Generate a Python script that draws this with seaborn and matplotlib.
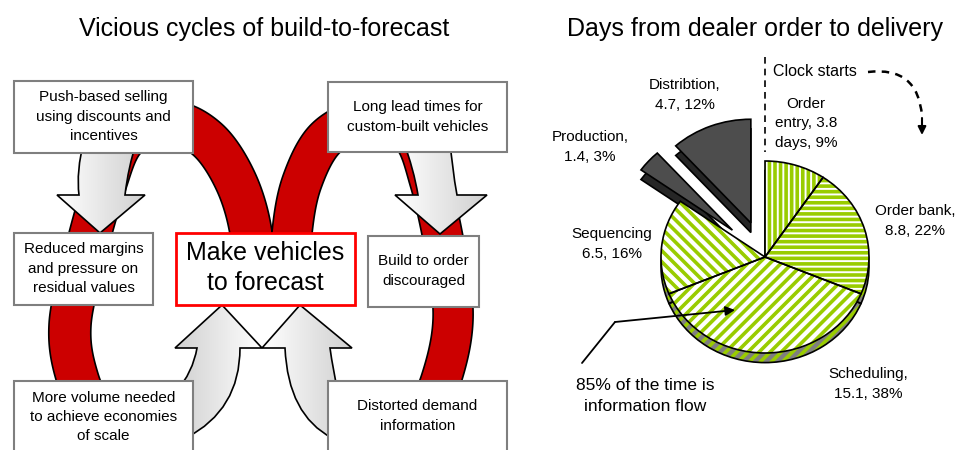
import numpy as np
import matplotlib.pyplot as plt
import seaborn as sns
from matplotlib.path import Path
from matplotlib.patches import PathPatch, Rectangle, Polygon
from matplotlib.colors import LinearSegmentedColormap

sns.set_theme(style="white")
plt.rcParams['font.family'] = ['Liberation Sans', 'DejaVu Sans']
plt.rcParams['text.color'] = 'black'
plt.rcParams['hatch.linewidth'] = 2.6

# --- pie data: days from dealer order to delivery ---
stages = ['Order entry', 'Order bank', 'Scheduling', 'Sequencing', 'Production', 'Distribtion']
days = [3.8, 8.8, 15.1, 6.5, 1.4, 4.7]
shares = [9, 22, 38, 16, 3, 12]
label_fmt = ['Order\nentry, {d}\ndays, {s}%', 'Order bank,\n{d}, {s}%', 'Scheduling,\n{d}, {s}%',
             'Sequencing\n{d}, {s}%', 'Production,\n{d}, {s}%', 'Distribtion,\n{d}, {s}%']
label_xy = [(806, 123), (915, 221), (868, 384), (612, 244), (590, 147), (685, 95)]
info_flow = [True, True, True, True, False, False]
explode = [0, 0, 0, 0, 0.42, 0.38]
hatches = ['|||', '---', '///', '\\\\\\', '', '']

# --- cycle diagram boxes: text, x0, y0, x1, y1 (pixels), text centre y ---
cycle_boxes = [
    ('Push-based selling\nusing discounts and\nincentives', 14, 81, 193, 153, 117),
    ('Long lead times for\ncustom-built vehicles', 328, 82, 507, 152, 117),
    ('Reduced margins\nand pressure on\nresidual values', 14, 233, 153, 305, 269),
    ('Build to order\ndiscouraged', 368, 236, 479, 307, 271),
    ('More volume needed\nto achieve economies\nof scale', 14, 381, 193, 470, 417),
    ('Distorted demand\ninformation', 328, 381, 507, 470, 416),
]
centre_text = 'Make vehicles\nto forecast'

green = '#99cc00'
W, H = 958, 450
fig = plt.figure(figsize=(W / 100, H / 100), dpi=100)
fig.patch.set_facecolor('white')

# pie axes (data units = pie radius), slightly squashed for a tilted look
ax_pie = fig.add_axes([0, 0, 1, 1])
cx, cy, rx, ry = 765, 257, 104, 96
depth = 0.1


def pie_layer(center, faces, hatch_list, z):
    fills, _ = ax_pie.pie(days, startangle=90, counterclock=False, explode=explode,
                          center=center, colors=faces,
                          wedgeprops=dict(linewidth=0, edgecolor=green, zorder=z))
    lines, _ = ax_pie.pie(days, startangle=90, counterclock=False, explode=explode,
                          center=center,
                          wedgeprops=dict(fill=False, edgecolor='black', linewidth=1.2, zorder=z + 0.5))
    for w, h in zip(fills, hatch_list):
        w.set_hatch(h)
    for i, info in enumerate(info_flow):
        if not info:
            fills[i].set_radius(1.08)
            lines[i].set_radius(1.08)


side_faces = ['#7f7f7f' if f else '#262626' for f in info_flow]
side_hatch = ['///' if f else '' for f in info_flow]
top_faces = ['white' if f else '#4d4d4d' for f in info_flow]
pie_layer((0, -depth), side_faces, side_hatch, 1)
pie_layer((0, 0), top_faces, hatches, 3)
ax_pie.set_aspect('auto')
ax_pie.set_xlim(-cx / rx, (W - cx) / rx)
ax_pie.set_ylim((cy - H) / ry, cy / ry)
ax_pie.axis('off')

# pixel canvas for the diagram and the texts
ax = fig.add_axes([0, 0, 1, 1])
ax.patch.set_visible(False)


def catmull(pts, n=24):
    p = np.asarray(pts, float)
    p = np.vstack([2 * p[0] - p[1], p, 2 * p[-1] - p[-2]])
    out = []
    t = np.linspace(0, 1, n, endpoint=False)[:, None]
    for i in range(1, len(p) - 2):
        p0, p1, p2, p3 = p[i - 1], p[i], p[i + 1], p[i + 2]
        out.append(0.5 * (2 * p1 + (p2 - p0) * t + (2 * p0 - 5 * p1 + 4 * p2 - p3) * t ** 2
                          + (3 * p1 - p0 - 3 * p2 + p3) * t ** 3))
    out.append(p[-2][None, :])
    return np.vstack(out)


def band(pts, half, z):
    c = catmull(pts)
    d = np.gradient(c, axis=0)
    d /= np.linalg.norm(d, axis=1)[:, None]
    nrm = np.c_[-d[:, 1], d[:, 0]]
    poly = np.r_[c + half * nrm, (c - half * nrm)[::-1]]
    ax.add_patch(Polygon(poly, closed=True, fc='#cc0000', ec='black', lw=1.2, zorder=z))


# two red loops running behind the boxes
band([(252, 285), (251, 233), (236, 182), (208, 140), (170, 122), (126, 138), (104, 188),
      (85, 255), (70, 325), (78, 380), (105, 440)], 21, 1)
band([(291, 285), (292, 233), (302, 182), (326, 138), (366, 120), (410, 134), (430, 182),
      (446, 255), (453, 320), (441, 380), (415, 440)], 20, 1.2)

arrow_cmap = LinearSegmentedColormap.from_list('arrow', ['white', '#d0d0d0'])
M, L, C, Z = Path.MOVETO, Path.LINETO, Path.CURVE3, Path.CLOSEPOLY


def block_arrow(verts, codes, reverse=False):
    patch = PathPatch(Path(verts, codes), facecolor='none', edgecolor='black', lw=1.2, zorder=3)
    ax.add_patch(patch)
    xs = [v[0] for v in verts]
    ys = [v[1] for v in verts]
    grad = np.linspace(0, 1, 64)[None, :]
    if reverse:
        grad = grad[:, ::-1]
    im = ax.imshow(grad, cmap=arrow_cmap, extent=(min(xs), max(xs), max(ys), min(ys)),
                   aspect='auto', interpolation='bilinear', zorder=2.5)
    im.set_clip_path(patch)


block_arrow([(84, 140), (76, 172), (79, 195), (57, 195), (100, 233), (145, 195), (125, 195),
             (128, 168), (137, 140), (84, 140)],
            [M, C, C, L, L, L, L, C, C, Z])
block_arrow([(403, 140), (414, 170), (418, 195), (395, 195), (440, 234), (487, 195), (457, 195),
             (452, 168), (450, 140), (403, 140)],
            [M, C, C, L, L, L, L, C, C, Z])
block_arrow([(222, 305), (262, 348), (240, 348), (240, 410), (186, 438), (176, 438), (176, 392),
             (193, 372), (197, 348), (175, 348), (222, 305)],
            [M, L, L, C, C, L, L, C, C, L, Z], reverse=True)
block_arrow([(300, 305), (352, 348), (330, 348), (333, 370), (338, 392), (340, 438), (332, 438),
             (288, 415), (285, 348), (262, 348), (300, 305)],
            [M, L, L, C, C, L, L, C, C, L, Z])

for text, x0, y0, x1, y1, ty in cycle_boxes:
    ax.add_patch(Rectangle((x0, y0), x1 - x0, y1 - y0, fc='white', ec='#7f7f7f', lw=1.5, zorder=4))
    ax.text((x0 + x1) / 2, ty, text, ha='center', va='center', fontsize=11,
            linespacing=1.5, zorder=5)
ax.add_patch(Rectangle((176, 233), 179, 72, fc='white', ec='#ff0000', lw=2, zorder=4))
ax.text(265.5, 268, centre_text, ha='center', va='center', fontsize=18, linespacing=1.35, zorder=5)

# titles
ax.text(264, 29, 'Vicious cycles of build-to-forecast', ha='center', va='center', fontsize=18)
ax.text(755, 29, 'Days from dealer order to delivery', ha='center', va='center', fontsize=18)

# pie labels
for fmt, d, s, (x, y) in zip(label_fmt, days, shares, label_xy):
    ax.text(x, y, fmt.format(d=d, s=s), ha='center', va='center', fontsize=11, linespacing=1.5, zorder=6)

# clock starts marker
ax.plot([765, 765], [57, 152], color='black', lw=1.2, ls=(0, (4, 3)), zorder=6)
ax.text(773, 72, 'Clock starts', ha='left', va='center', fontsize=11.5, zorder=6)
ax.add_patch(PathPatch(Path([(868, 72), (918, 66), (922, 116)], [M, C, C]), fc='none', ec='black',
                       lw=1.8, ls=(0, (3, 2.5)), zorder=6))
ax.annotate('', xy=(922, 135), xytext=(922, 118),
            arrowprops=dict(arrowstyle='-|>', color='black', lw=1.5, mutation_scale=12,
                            shrinkA=0, shrinkB=0), zorder=6)

# information-flow callout
ax.plot([582, 615], [363, 322], color='black', lw=1.3, zorder=6)
ax.annotate('', xy=(735, 310), xytext=(615, 322),
            arrowprops=dict(arrowstyle='-|>', color='black', lw=1.3, mutation_scale=14,
                            shrinkA=0, shrinkB=0), zorder=6)
ax.text(645, 396, '85% of the time is\ninformation flow', ha='center', va='center',
        fontsize=12.5, linespacing=1.45, zorder=6)

ax.set_xlim(0, W)
ax.set_ylim(H, 0)
ax.axis('off')

fig.savefig('out.png', dpi=100)
